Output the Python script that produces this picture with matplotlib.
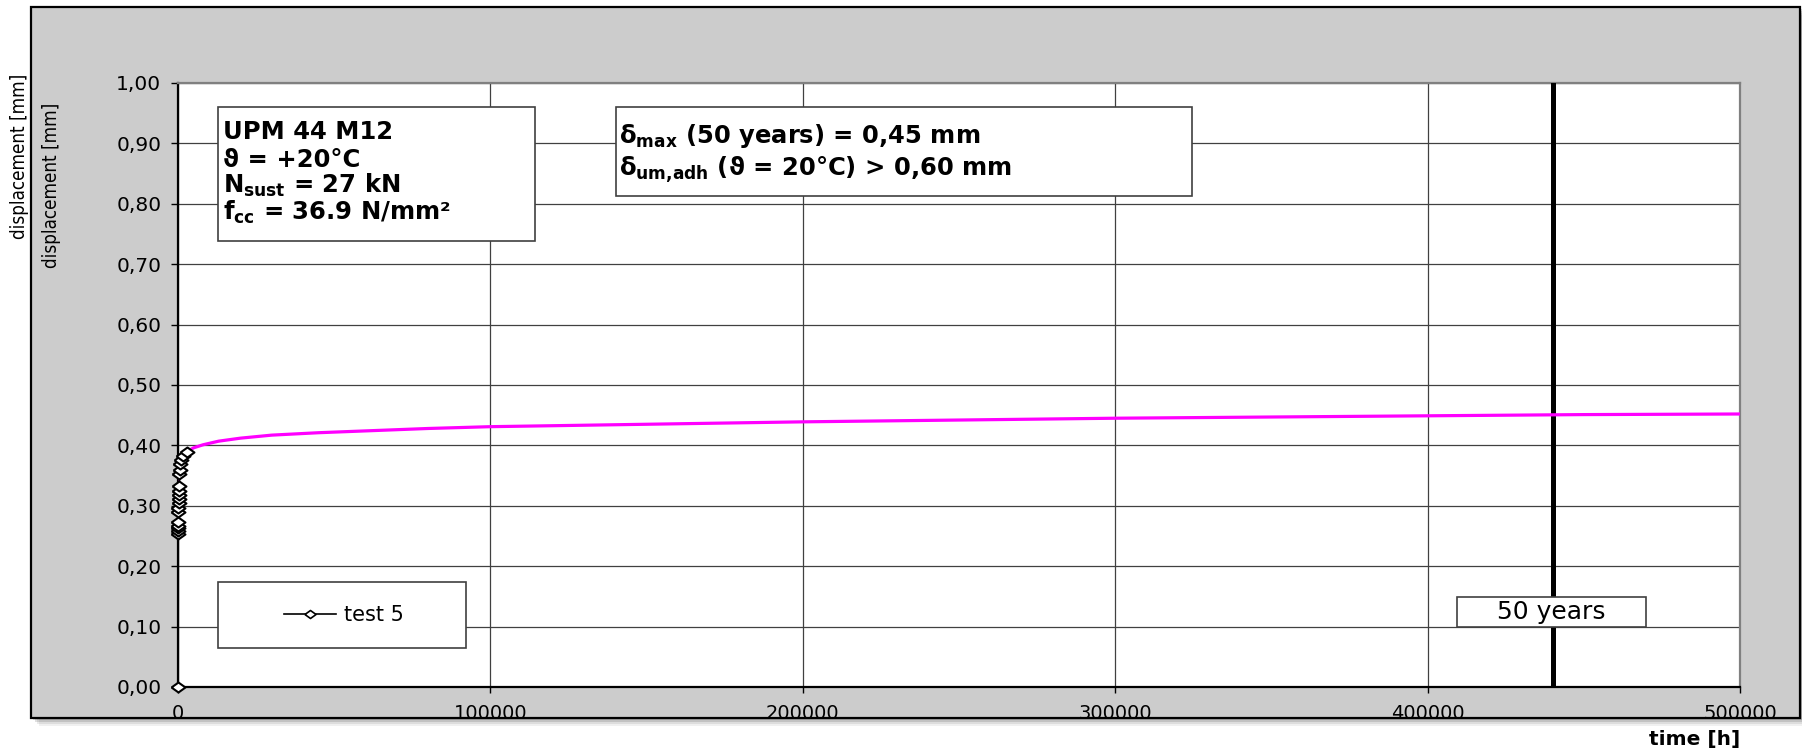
"""Long-term creep test: displacement vs. time with 50-year extrapolation."""

import matplotlib
matplotlib.use("Agg")
import matplotlib.pyplot as plt
from matplotlib import font_manager
from matplotlib.patches import Rectangle

# measured points of test 5 (time in hours, displacement in mm)
test_time_h = [0, 20, 40, 60, 80, 100, 130, 160, 190, 220, 250, 300, 350,
               420, 500, 700, 960, 1700, 2780]
test_disp_mm = [0.0, 0.254, 0.258, 0.263, 0.267, 0.273, 0.289, 0.297, 0.304,
                0.311, 0.318, 0.325, 0.332, 0.352, 0.360, 0.369, 0.376,
                0.383, 0.389]

# extrapolation curve
trend_time_h = [50, 200, 500, 1000, 2000, 3000, 5000, 8000, 13000, 20000,
                30000, 45000, 60000, 80000, 100000, 150000, 200000, 250000,
                300000, 350000, 400000, 450000, 500000]
trend_disp_mm = [0.345, 0.360, 0.370, 0.378, 0.386, 0.390, 0.396, 0.401,
                 0.407, 0.412, 0.417, 0.421, 0.424, 0.428, 0.431, 0.435,
                 0.439, 0.442, 0.445, 0.447, 0.449, 0.451, 0.452]

fifty_years_h = 440000

x_ticks = [0, 100000, 200000, 300000, 400000, 500000]
x_tick_labels = ["0", "100000", "200000", "300000", "400000", "500000"]
y_ticks = [0.0, 0.1, 0.2, 0.3, 0.4, 0.5, 0.6, 0.7, 0.8, 0.9, 1.0]
y_tick_labels = ["0,00", "0,10", "0,20", "0,30", "0,40", "0,50", "0,60",
                 "0,70", "0,80", "0,90", "1,00"]

W, H = 1802, 748
FONT = "DejaVu Sans"
BOX_FS = 17.5

plt.rcParams["font.family"] = [FONT]
plt.rcParams["mathtext.fontset"] = "custom"
plt.rcParams["mathtext.rm"] = "DejaVu Sans:bold"
plt.rcParams["mathtext.it"] = "DejaVu Sans:bold"
plt.rcParams["mathtext.bf"] = "DejaVu Sans:bold"

# a condensed face for the axis title, if one is installed
has_condensed = any(f.name == FONT and f.stretch in ("condensed", 300)
                    for f in font_manager.fontManager.ttflist)
ylab_kw = dict(fontsize=13.5, fontstretch="condensed") if has_condensed \
    else dict(fontsize=12)


def px_box(x0, y0, x1, y1):
    """Figure-fraction rectangle from pixel corners (y from top)."""
    return (x0 / W, 1 - y1 / H), (x1 - x0) / W, (y1 - y0) / H


fig = plt.figure(figsize=(W / 100, H / 100), dpi=100)
fig.patch.set_facecolor("white")

# grey chart area with a soft shadow
for off, alpha in [(8, 0.06), (6, 0.08), (4, 0.12), (2, 0.15)]:
    xy, w, h = px_box(31 + off, 7 + off, 1800 + off, 718 + off)
    fig.add_artist(Rectangle(xy, w, h, transform=fig.transFigure,
                             facecolor="black", edgecolor="none",
                             alpha=alpha, zorder=-12))
xy, w, h = px_box(31, 7, 1800, 718)
fig.add_artist(Rectangle(xy, w, h, transform=fig.transFigure,
                         facecolor="#cccccc", edgecolor="black",
                         linewidth=1.6, zorder=-10))

ax = fig.add_axes([178 / W, 1 - 687 / H, 1562 / W, 604 / H])
ax.set_facecolor("white")

ax.plot(test_time_h, test_disp_mm, color="black", lw=1.5, zorder=3)
ax.plot(trend_time_h, trend_disp_mm, color="#ff00ff", lw=2.3, zorder=4)
diamond = [(-1, 0), (0, 0.72), (1, 0), (0, -0.72), (-1, 0)]
ax.plot(test_time_h, test_disp_mm, linestyle="none", marker=diamond,
        markersize=10, markerfacecolor="white", markeredgecolor="black",
        markeredgewidth=1.5, zorder=5, clip_on=False)

ax.axvline(fifty_years_h, color="black", lw=3.6, zorder=3)

ax.set_xlim(0, 500000)
ax.set_ylim(0, 1.0)
ax.set_xticks(x_ticks)
ax.set_xticklabels(x_tick_labels)
ax.set_yticks(y_ticks)
ax.set_yticklabels(y_tick_labels)
ax.tick_params(axis="y", direction="out", length=5, width=1, pad=7,
               labelsize=14.5)
ax.tick_params(axis="x", direction="out", length=4, width=1, pad=8,
               labelsize=14)
ax.grid(True, color="#404040", lw=0.9, zorder=1)
ax.set_axisbelow(True)

for side in ("left", "bottom"):
    ax.spines[side].set_color("black")
    ax.spines[side].set_linewidth(1.6)
for side in ("top", "right"):
    ax.spines[side].set_color("#808080")
    ax.spines[side].set_linewidth(1.6)

# info box: anchor
ax.add_patch(Rectangle((0.0256, 0.738), 0.2030, 0.222, transform=ax.transAxes,
                       facecolor="white", edgecolor="#404040", lw=1.2,
                       zorder=6))
box_lines = [
    ("UPM 44 M12", 0.9068),
    ("\u03d1 = +20\u00b0C", 0.8604),
    ("N$_{\\mathrm{sust}}$ = 27 kN", 0.8190),
    ("f$_{\\mathrm{cc}}$ = 36.9 N/mm\u00b2", 0.7743),
]
for txt, yb in box_lines:
    ax.text(0.0288, yb, txt, transform=ax.transAxes, fontsize=BOX_FS,
            fontweight="bold", va="baseline", ha="left", zorder=7)

# info box: displacements
ax.add_patch(Rectangle((0.2801, 0.8129), 0.3691, 0.1471,
                       transform=ax.transAxes, facecolor="white",
                       edgecolor="#404040", lw=1.2, zorder=6))
ax.text(0.2823, 0.900, "\u03b4$_{\\mathrm{max}}$ (50 years) = 0,45 mm",
        transform=ax.transAxes, fontsize=BOX_FS, fontweight="bold",
        va="baseline", ha="left", zorder=7)
ax.text(0.2823, 0.846,
        "\u03b4$_{\\mathrm{um{,}adh}}$ (\u03d1 = 20\u00b0C) > 0,60 mm",
        transform=ax.transAxes, fontsize=BOX_FS, fontweight="bold",
        va="baseline", ha="left", zorder=7)

# 50 years label
ax.add_patch(Rectangle((0.8188, 0.0998), 0.1210, 0.0497,
                       transform=ax.transAxes, facecolor="white",
                       edgecolor="#404040", lw=1.2, zorder=6))
ax.text(0.8793, 0.1247, "50 years", transform=ax.transAxes, fontsize=18,
        ha="center", va="center", zorder=7)

# legend inside a hand-drawn frame
ax.add_patch(Rectangle((0.0256, 0.0646), 0.1588, 0.1092,
                       transform=ax.transAxes, facecolor="white",
                       edgecolor="#404040", lw=1.2, zorder=6))
(handle,) = ax.plot([], [], color="black", lw=1.2, marker=diamond,
                    markersize=8, markerfacecolor="white",
                    markeredgecolor="black", markeredgewidth=1.2)
leg = ax.legend([handle], ["test 5"], loc="center",
                bbox_to_anchor=(0.1063, 0.1192), frameon=False, fontsize=15,
                handlelength=2.5, handletextpad=0.4, borderpad=0)
leg.set_zorder(7)

fig.text(20 / W, 1 - 156 / H, "displacement [mm]", rotation=90,
         ha="center", va="center", **ylab_kw)
fig.text(52 / W, 1 - 185 / H, "displacement [mm]", rotation=90,
         ha="center", va="center", **ylab_kw)
fig.text(1695 / W, 1 - 740 / H, "time [h]", ha="center", va="center",
         fontsize=14.5, fontweight="bold")

fig.savefig("out.png", dpi=100)
plt.close(fig)
